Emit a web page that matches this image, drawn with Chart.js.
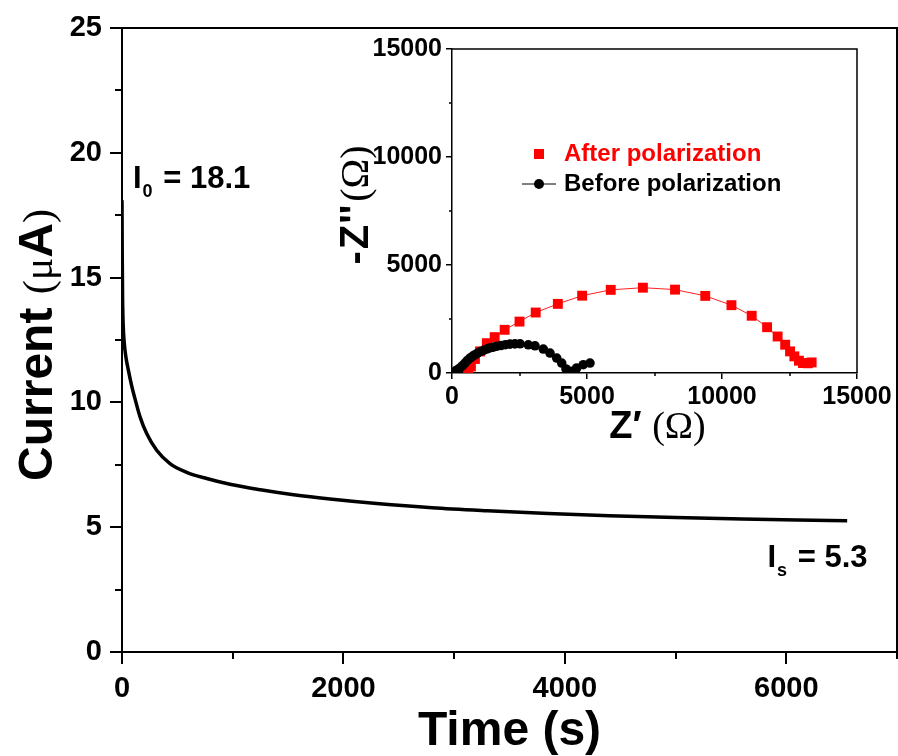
<!DOCTYPE html>
<html>
<head>
<meta charset="utf-8">
<script src="https://cdn.jsdelivr.net/npm/chart.js@4.4.0/dist/chart.umd.min.js"></script>
<style>
    html, body { margin: 0; padding: 0; background: #fff; }
    #wrap { position: relative; width: 898px; height: 756px; }
    #main { position: absolute; left: 0; top: 0; }
    #inset { position: absolute; left: 320px; top: 30px; }
</style>
</head>
<body>
<div id="wrap">
    <canvas id="main" width="898" height="756"></canvas>
    <canvas id="inset" width="578" height="425"></canvas>
</div>
<script>
    // chronoamperometry curve (s, uA)
    var time = [0, 2, 5, 10, 20, 36, 57, 88, 117, 163, 223, 313, 433, 584, 765, 975, 1250, 1550, 1900, 2300, 2800, 3300, 3850, 4400, 5000, 5600, 6100, 6550];
    var current = [18.1, 16.0, 14.3, 13.2, 12.4, 11.8, 11.3, 10.65, 10.15, 9.42, 8.75, 8.08, 7.55, 7.2, 6.95, 6.72, 6.5, 6.3, 6.12, 5.95, 5.78, 5.66, 5.55, 5.46, 5.39, 5.33, 5.29, 5.26];
    var i0 = 18.1;
    var iS = 5.3;
    var timeTicks = [0, 2000, 4000, 6000];
    var timeMinor = [1000, 3000, 5000, 7000];
    var currentTicks = [0, 5, 10, 15, 20, 25];
    var currentMinor = [2.5, 7.5, 12.5, 17.5, 22.5];

    // impedance spectra (ohm)
    var zReAfter = [600, 700, 850, 1040, 1290, 1580, 1950, 2500, 3100, 3920, 4820, 5880, 7070, 8260, 9380, 10350, 11100, 11670, 12060, 12340, 12520, 12680, 12850, 13000, 13180, 13320];
    var zImAfter = [50, 300, 650, 1000, 1380, 1660, 2000, 2380, 2800, 3200, 3580, 3850, 3950, 3860, 3570, 3140, 2650, 2120, 1690, 1310, 1000, 770, 570, 460, 450, 490];
    var zReBefore = [111, 200, 296, 390, 481, 570, 667, 760, 852, 950, 1063, 1170, 1285, 1400, 1530, 1670, 1815, 1980, 2148, 2330, 2519, 2826, 3074, 3381, 3630, 3878, 4063, 4222, 4307, 4433, 4619, 4863, 5111];
    var zImBefore = [74, 150, 231, 340, 461, 580, 692, 770, 845, 920, 997, 1050, 1108, 1160, 1200, 1240, 1274, 1310, 1338, 1350, 1352, 1306, 1260, 1108, 923, 692, 461, 185, 28, 74, 231, 383, 461];
    var zTicks = [0, 5000, 10000, 15000];
    var zMinor = [2500, 7500, 12500];

    var SANS = '"Liberation Sans", Arial, sans-serif';
    var SERIF = '"Liberation Serif", "Times New Roman", serif';

    function pts(xs, ys) {
        return xs.map(function (x, i) { return {x: x, y: ys[i]}; });
    }

    function fixTicks(list) {
        return function (scale) {
            scale.ticks = list.map(function (v) { return {value: v}; });
        };
    }

    function plain(v) { return String(v); }

    // text made of several font pieces, centred on cx, baseline at cy
    function drawPieces(ctx, pieces, cx, cy, rotate) {
        ctx.save();
        ctx.translate(cx, cy);
        if (rotate) ctx.rotate(-Math.PI / 2);
        var total = 0;
        pieces.forEach(function (p) {
            ctx.font = p.font;
            p.w = ctx.measureText(p.text).width;
            total += p.w + (p.gap || 0);
        });
        var x = -total / 2;
        ctx.textAlign = 'left';
        ctx.textBaseline = 'alphabetic';
        ctx.fillStyle = '#000';
        pieces.forEach(function (p) {
            ctx.font = p.font;
            ctx.fillText(p.text, x, p.dy || 0);
            x += p.w + (p.gap || 0);
        });
        ctx.restore();
    }

    function drawMinor(ctx, chart, xMinor, yMinor, len, lw) {
        var a = chart.chartArea, xs = chart.scales.x, ys = chart.scales.y;
        ctx.save();
        ctx.strokeStyle = '#000';
        ctx.lineWidth = lw;
        ctx.beginPath();
        xMinor.forEach(function (v) {
            var px = Math.round(xs.getPixelForValue(v));
            ctx.moveTo(px, a.bottom);
            ctx.lineTo(px, a.bottom + len);
        });
        yMinor.forEach(function (v) {
            var py = Math.round(ys.getPixelForValue(v));
            ctx.moveTo(a.left, py);
            ctx.lineTo(a.left - len, py);
        });
        ctx.stroke();
        // top and right frame
        ctx.beginPath();
        ctx.moveTo(a.left, a.top);
        ctx.lineTo(a.right, a.top);
        ctx.lineTo(a.right, a.bottom);
        ctx.stroke();
        ctx.restore();
    }

    function subLabel(ctx, main, sub, rest, x, y) {
        ctx.save();
        ctx.fillStyle = '#000';
        ctx.textAlign = 'left';
        ctx.textBaseline = 'alphabetic';
        ctx.font = 'bold 31px ' + SANS;
        ctx.fillText(main, x, y);
        var w = ctx.measureText(main).width;
        ctx.font = 'bold 18px ' + SANS;
        ctx.fillText(sub, x + w + 1, y + 9);
        var w2 = ctx.measureText(sub).width;
        ctx.font = 'bold 31px ' + SANS;
        ctx.fillText(rest, x + w + w2 + 3, y);
        ctx.restore();
    }

    var mainDecor = {
        id: 'mainDecor',
        afterDraw: function (chart) {
            var ctx = chart.ctx, a = chart.chartArea;
            var xs = chart.scales.x, ys = chart.scales.y;
            drawMinor(ctx, chart, timeMinor, currentMinor, 7, 2);
            drawPieces(ctx, [
                {text: 'Current ', font: 'bold 48px ' + SANS},
                {text: '(\u03bc', font: '42px ' + SERIF},
                {text: 'A', font: 'bold 48px ' + SANS},
                {text: ')', font: '42px ' + SERIF}
            ], 52, (a.top + a.bottom) / 2 + 5, true);
            drawPieces(ctx, [{text: 'Time (s)', font: 'bold 48px ' + SANS}],
                (a.left + a.right) / 2, 745, false);
            subLabel(ctx, 'I', '0', ' = ' + i0, xs.getPixelForValue(0) + 11, ys.getPixelForValue(i0) - 12);
            subLabel(ctx, 'I', 's', ' = ' + iS, xs.getPixelForValue(5830), ys.getPixelForValue(iS) + 47);
        }
    };

    new Chart(document.getElementById('main'), {
        type: 'scatter',
        data: {
            datasets: [{
                data: pts(time, current),
                showLine: true,
                borderColor: '#000',
                borderWidth: 3.5,
                pointRadius: 0,
                cubicInterpolationMode: 'monotone'
            }]
        },
        options: {
            responsive: false,
            animation: false,
            layout: {padding: {top: 28, right: 1, left: 0, bottom: 0}},
            plugins: {legend: {display: false}, tooltip: {enabled: false}},
            scales: {
                x: {
                    type: 'linear', min: 0, max: 7000,
                    afterBuildTicks: fixTicks(timeTicks),
                    afterFit: function (s) { s.height = 104; },
                    border: {display: true, color: '#000', width: 2},
                    grid: {display: true, drawOnChartArea: false, drawTicks: true, tickLength: 12, color: '#000', lineWidth: 2},
                    ticks: {color: '#000', font: {family: SANS, size: 29, weight: 'bold'}, padding: 8, maxRotation: 0, callback: plain}
                },
                y: {
                    type: 'linear', min: 0, max: 25,
                    afterBuildTicks: fixTicks(currentTicks),
                    afterFit: function (s) { s.width = 122; },
                    border: {display: true, color: '#000', width: 2},
                    grid: {display: true, drawOnChartArea: false, drawTicks: true, tickLength: 12, color: '#000', lineWidth: 2},
                    ticks: {color: '#000', font: {family: SANS, size: 29, weight: 'bold'}, padding: 8, callback: plain}
                }
            }
        },
        plugins: [mainDecor]
    });

    var insetDecor = {
        id: 'insetDecor',
        afterDraw: function (chart) {
            var ctx = chart.ctx, a = chart.chartArea;
            drawMinor(ctx, chart, zMinor, zMinor, 3, 1.5);
            drawPieces(ctx, [
                {text: '-', font: 'bold 40px ' + SANS, gap: 2},
                {text: 'Z', font: 'bold 40px ' + SANS, gap: 1},
                {text: "''", font: 'bold 40px ' + SANS, gap: 3},
                {text: '(\u03a9)', font: '40px ' + SERIF}
            ], 48, 175, true);
            drawPieces(ctx, [
                {text: 'Z\u2032 ', font: 'bold 38px ' + SANS},
                {text: '(\u03a9)', font: '38px ' + SERIF}
            ], (a.left + a.right) / 2 + 3, 408, false);
            // legend
            ctx.save();
            ctx.font = 'bold 24px ' + SANS;
            ctx.textBaseline = 'middle';
            ctx.textAlign = 'left';
            ctx.fillStyle = '#ff0000';
            ctx.fillRect(219 - 5, 124 - 5, 10, 10);
            ctx.fillText('After polarization', 244, 124);
            ctx.strokeStyle = '#000';
            ctx.lineWidth = 1;
            ctx.beginPath();
            ctx.moveTo(202, 154);
            ctx.lineTo(236, 154);
            ctx.stroke();
            ctx.fillStyle = '#000';
            ctx.beginPath();
            ctx.arc(219, 154, 5, 0, Math.PI * 2);
            ctx.fill();
            ctx.fillText('Before polarization', 244, 154);
            ctx.restore();
        }
    };

    new Chart(document.getElementById('inset'), {
        type: 'scatter',
        data: {
            datasets: [{
                label: 'Before polarization',
                data: pts(zReBefore, zImBefore),
                showLine: true,
                borderColor: '#000',
                borderWidth: 1,
                backgroundColor: '#000',
                pointStyle: 'circle',
                pointRadius: 4.8,
                pointBorderWidth: 0
            }, {
                label: 'After polarization',
                data: pts(zReAfter, zImAfter),
                showLine: true,
                borderColor: '#ff2020',
                borderWidth: 1,
                backgroundColor: '#ff0000',
                pointStyle: 'rect',
                pointRadius: 7,
                pointBorderWidth: 0
            }]
        },
        options: {
            responsive: false,
            animation: false,
            layout: {padding: {top: 18, right: 41, left: 0, bottom: 0}},
            plugins: {legend: {display: false}, tooltip: {enabled: false}},
            scales: {
                x: {
                    type: 'linear', min: 0, max: 15000,
                    afterBuildTicks: fixTicks(zTicks),
                    afterFit: function (s) { s.height = 82; },
                    border: {display: true, color: '#000', width: 1.5},
                    grid: {display: true, drawOnChartArea: false, drawTicks: true, tickLength: 6, color: '#000', lineWidth: 1.5},
                    ticks: {color: '#000', font: {family: SANS, size: 25, weight: 'bold'}, padding: 3, maxRotation: 0, callback: plain}
                },
                y: {
                    type: 'linear', min: 0, max: 15000,
                    afterBuildTicks: fixTicks(zTicks),
                    afterFit: function (s) { s.width = 132; },
                    border: {display: true, color: '#000', width: 1.5},
                    grid: {display: true, drawOnChartArea: false, drawTicks: true, tickLength: 6, color: '#000', lineWidth: 1.5},
                    ticks: {color: '#000', font: {family: SANS, size: 25, weight: 'bold'}, padding: 4, callback: plain}
                }
            }
        },
        plugins: [insetDecor]
    });
</script>
</body>
</html>
